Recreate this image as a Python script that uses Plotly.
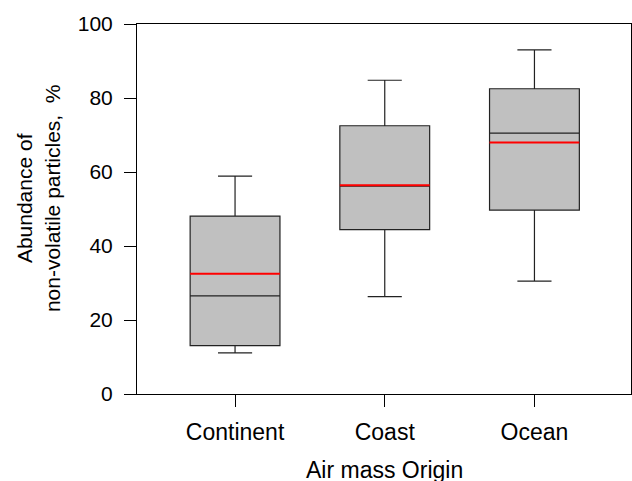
import plotly.graph_objects as go

categories = ["Continent", "Coast", "Ocean"]
lower_whisker = [11.1, 26.3, 30.5]
q1 = [13.1, 44.4, 49.7]
median = [26.5, 56.2, 70.5]
mean = [32.5, 56.4, 68.0]
q3 = [48.1, 72.5, 82.5]
upper_whisker = [58.9, 84.8, 93.0]
y_ticks = [0, 20, 40, 60, 80, 100]

FONT = "Liberation Sans, Arial, sans-serif"
positions = list(range(len(categories)))
box_w = 0.6

fig = go.Figure()
for i, cat in enumerate(categories):
    fig.add_trace(go.Box(
        x=[positions[i]], q1=[q1[i]], median=[median[i]], q3=[q3[i]],
        lowerfence=[lower_whisker[i]], upperfence=[upper_whisker[i]],
        width=box_w, whiskerwidth=0.38,
        fillcolor="#c0c0c0", line=dict(color="#222222", width=1.2),
        boxpoints=False, showlegend=False, name=cat,
    ))
    fig.add_trace(go.Scatter(
        x=[positions[i] - box_w / 2, positions[i] + box_w / 2],
        y=[mean[i], mean[i]], mode="lines",
        line=dict(color="#ff0000", width=2), showlegend=False,
        hoverinfo="skip",
    ))

fig.update_layout(
    width=632, height=481,
    margin=dict(l=137, r=1, t=24, b=87),
    paper_bgcolor="white", plot_bgcolor="white",
    font=dict(family=FONT, size=21, color="black"),
    showlegend=False,
    xaxis=dict(
        range=[-0.655, 2.645], tickmode="array", tickvals=positions,
        ticktext=categories, ticks="outside", ticklen=12, tickwidth=1,
        tickcolor="black", showline=True, linecolor="black", linewidth=1,
        mirror=True, showgrid=False, zeroline=False,
        ticklabelstandoff=5,
        tickfont=dict(size=23, family=FONT),
    ),
    yaxis=dict(
        range=[0, 100], tickmode="array", tickvals=y_ticks,
        ticks="outside", ticklen=12, tickwidth=1, tickcolor="black",
        showline=True, linecolor="black", linewidth=1, mirror=True,
        showgrid=False, zeroline=False,
        ticklabelstandoff=7,
        tickfont=dict(size=21, family=FONT),
    ),
    annotations=[
        dict(text="Abundance of<br>non-volatile particles,  %",
             xref="paper", yref="paper", x=-0.2, y=0.53,
             xanchor="center", yanchor="middle", textangle=-90,
             showarrow=False, font=dict(size=21, family=FONT)),
        dict(text="Air mass Origin", xref="paper", yref="paper",
             x=0.5, y=-0.205, xanchor="center", yanchor="middle",
             showarrow=False, font=dict(size=23, family=FONT)),
    ],
)

fig.write_html("out.html")
